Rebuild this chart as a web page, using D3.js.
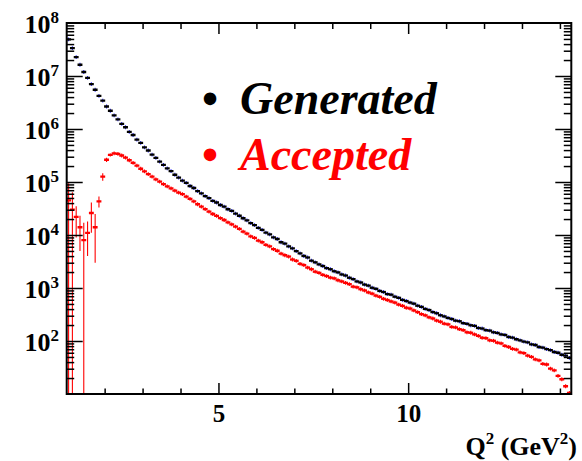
<!DOCTYPE html>
<html>
<head>
<meta charset="utf-8">
<script src="https://cdn.jsdelivr.net/npm/d3@7"></script>
<style>
  body { margin: 0; background: #fff; }
  svg { display: block; }
</style>
</head>
<body>
<svg id="chart" width="582" height="461"></svg>
<script>
// Q^2 histograms: 133 bins of width 0.1 GeV^2 starting at 1.0 GeV^2
const binLow = 1.0;
const binWidth = 0.1;

// Generated events per bin
const generated = [
  4.9e7, 3.35e7, 2.27e7, 1.63e7, 1.19e7, 9.2e6, 7.0e6, 5.5e6, 4.2e6, 3.42e6,
  2.66e6, 2.21e6, 1.80e6, 1.52e6, 1.25e6, 1.08e6, 8.8e5, 7.7e5, 6.3e5, 5.45e5,
  4.52e5, 3.93e5, 3.28e5, 2.85e5, 2.42e5, 2.11e5, 1.80e5, 1.60e5, 1.37e5, 1.21e5,
  1.06e5, 9.6e4, 8.4e4, 7.7e4, 6.7e4, 6.1e4, 5.4e4, 4.95e4, 4.42e4, 4.10e4,
  3.68e4, 3.42e4, 3.06e4, 2.85e4, 2.54e4, 2.31e4, 2.07e4, 1.88e4, 1.68e4, 1.53e4,
  1.36e4, 1.25e4, 1.11e4, 1.03e4, 9.0e3, 8.4e3, 7.3e3, 6.9e3, 6.1e3, 5.6e3,
  4.95e3, 4.52e3, 4.02e3, 3.76e3, 3.28e3, 3.05e3, 2.79e3, 2.60e3, 2.37e3, 2.26e3,
  2.07e3, 1.97e3, 1.80e3, 1.72e3, 1.56e3, 1.47e3, 1.33e3, 1.27e3, 1.16e3, 1.11e3,
  1010, 965, 880, 840, 768, 748, 685, 652, 597, 568,
  531, 506, 463, 441, 403, 384, 351, 334, 306, 291,
  272, 260, 242, 236, 217, 211, 198, 193, 176, 172,
  160, 157, 146, 142, 133, 130, 119, 116, 108, 103,
  97, 94, 86, 84, 77, 75, 70, 67, 62, 60,
  55, 53, 48
];

// Accepted events per bin
const accepted = [
  4.5e4, 3.0e4, 2.2e4, 1.4e4, 8.0e3, 1.1e4, 2.6e4, 1.4e4, 4.3e4, 1.26e5,
  2.63e5, 3.24e5, 3.47e5, 3.39e5, 3.16e5, 2.88e5, 2.57e5, 2.29e5, 2.04e5, 1.78e5,
  1.58e5, 1.41e5, 1.26e5, 1.12e5, 1.02e5, 9.1e4, 8.3e4, 7.6e4, 6.9e4, 6.3e4,
  5.9e4, 5.3e4, 4.8e4, 4.3e4, 3.8e4, 3.42e4, 3.07e4, 2.77e4, 2.49e4, 2.30e4,
  2.08e4, 1.92e4, 1.73e4, 1.59e4, 1.44e4, 1.30e4, 1.16e4, 1.06e4, 9.4e3, 8.8e3,
  7.8e3, 7.3e3, 6.5e3, 6.1e3, 5.4e3, 5.05e3, 4.45e3, 4.15e3, 3.92e3, 3.45e3,
  3.26e3, 2.86e3, 2.71e3, 2.43e3, 2.26e3, 2.03e3, 1.93e3, 1.77e3, 1.68e3, 1.57e3,
  1.52e3, 1.40e3, 1.33e3, 1.25e3, 1.18e3, 1.06e3, 1.03e3, 948, 898, 826,
  782, 718, 682, 626, 594, 558, 530, 486, 461, 424,
  410, 377, 350, 321, 305, 280, 266, 243, 231, 212,
  206, 184, 180, 167, 160, 146, 143, 133, 125, 115,
  113, 103, 101, 93, 90, 81, 77, 71, 69, 61,
  59, 53, 50, 45, 43, 37, 36, 30, 28, 22,
  19, 14, 10.5
];

// Uncertainties of the first accepted bins (low-Q^2 region with large weights)
const acceptedErr = [5.0e4, 3.4e4, 1.3e4, 9.0e3, 9.0e3, 7.0e3, 1.5e4, 1.1e4, 1.0e4, 2.0e4, 2.5e4, 2.0e4];

// Axis ticks and labels
const xMajorTicks = [5, 10];
const xMinorTicks = [2, 3, 4, 6, 7, 8, 9, 11, 12, 13, 14];
const yLabelExponents = [2, 3, 4, 5, 6, 7, 8];
const yMajorTicks = [1e2, 1e3, 1e4, 1e5, 1e6, 1e7];
const legendItems = [
  { label: "Generated", color: "#000000" },
  { label: "Accepted", color: "#ff0000" }
];

const svg = d3.select("#chart");
const SERIF = '"Liberation Serif"';

const plot = { left: 66.7, right: 571.3, top: 23, bottom: 394 };
const x = d3.scaleLinear().domain([1.0, 14.3]).range([plot.left, plot.right]);
const y = d3.scaleLog().domain([10, 1e8]).range([plot.bottom, plot.top]).clamp(true);

const yMinorTicks = [];
for (let e = 1; e < 8; e++) for (let k = 2; k <= 9; k++) yMinorTicks.push(k * Math.pow(10, e));

svg.append("defs").append("clipPath").attr("id", "plotClip")
  .append("rect")
  .attr("x", plot.left - 4).attr("y", plot.top)
  .attr("width", plot.right - plot.left + 4).attr("height", plot.bottom - plot.top);

const bins = (values, errs) => values.map((v, i) => ({
  x0: binLow + i * binWidth,
  x1: binLow + (i + 1) * binWidth,
  xc: binLow + (i + 0.5) * binWidth,
  v,
  err: errs && errs[i] != null ? errs[i] : null
}));

const genBins = bins(generated, null);
const accBins = bins(accepted, acceptedErr);

const data = svg.append("g").attr("clip-path", "url(#plotClip)");

function drawHist(g, bs, barColor, dashColor) {
  // vertical error bars
  g.selectAll("line.err").data(bs).join("line")
    .attr("class", "err")
    .attr("x1", d => x(d.xc)).attr("x2", d => x(d.xc))
    .attr("y1", d => d.err != null ? y(d.v + d.err) : y(d.v) - 1.9)
    .attr("y2", d => d.err != null ? y(Math.max(d.v - d.err, 1)) : y(d.v) + 1.9)
    .attr("stroke", barColor).attr("stroke-width", 1.1);
  // bin-width markers
  g.selectAll("line.bin").data(bs).join("line")
    .attr("class", "bin")
    .attr("x1", d => x(d.x0) + 0.6).attr("x2", d => x(d.x1) - 0.6)
    .attr("y1", d => y(d.v)).attr("y2", d => y(d.v))
    .attr("stroke", dashColor).attr("stroke-width", 2.3)
    .attr("stroke-linecap", "square");
}

drawHist(data.append("g"), genBins, "#2626ff", "#000000");
drawHist(data.append("g"), accBins, "#ff0000", "#ff0000");

// Frame
svg.append("rect")
  .attr("x", plot.left).attr("y", plot.top)
  .attr("width", plot.right - plot.left).attr("height", plot.bottom - plot.top)
  .attr("fill", "none").attr("stroke", "#000").attr("stroke-width", 2);

function tickAxis(axis, transform) {
  const g = svg.append("g").attr("transform", transform).call(axis);
  g.select(".domain").remove();
  g.selectAll(".tick line").attr("stroke", "#000").attr("stroke-width", 1.5);
  return g;
}

// X axis ticks (bottom and top, pointing inward)
const xb = tickAxis(d3.axisBottom(x).tickValues(xMajorTicks).tickSizeInner(-11).tickSizeOuter(0)
  .tickPadding(10).tickFormat(d3.format("d")), `translate(0,${plot.bottom})`);
xb.selectAll(".tick text")
  .style("font-family", SERIF).style("font-weight", "bold").style("font-size", "25px").attr("fill", "#000");
tickAxis(d3.axisBottom(x).tickValues(xMinorTicks).tickSizeInner(-5.5).tickSizeOuter(0).tickFormat(""),
  `translate(0,${plot.bottom})`);
tickAxis(d3.axisTop(x).tickValues(xMajorTicks).tickSizeInner(-11).tickSizeOuter(0).tickFormat(""),
  `translate(0,${plot.top})`);
tickAxis(d3.axisTop(x).tickValues(xMinorTicks).tickSizeInner(-6).tickSizeOuter(0).tickFormat(""),
  `translate(0,${plot.top})`);

// Y axis ticks (left and right, pointing inward)
tickAxis(d3.axisLeft(y).tickValues(yMajorTicks).tickSizeInner(-16).tickSizeOuter(0).tickFormat(""),
  `translate(${plot.left},0)`);
tickAxis(d3.axisLeft(y).tickValues(yMinorTicks).tickSizeInner(-7.5).tickSizeOuter(0).tickFormat(""),
  `translate(${plot.left},0)`);
tickAxis(d3.axisRight(y).tickValues(yMajorTicks).tickSizeInner(-16).tickSizeOuter(0).tickFormat(""),
  `translate(${plot.right},0)`);
tickAxis(d3.axisRight(y).tickValues(yMinorTicks).tickSizeInner(-7.5).tickSizeOuter(0).tickFormat(""),
  `translate(${plot.right},0)`);

// Y tick labels: 10^n
const yl = svg.append("g");
yLabelExponents.forEach(e => {
  const t = yl.append("text")
    .attr("x", 59).attr("y", y(Math.pow(10, e)) + 10)
    .attr("text-anchor", "end")
    .style("font-family", SERIF).style("font-weight", "bold").attr("fill", "#000");
  t.append("tspan").style("font-size", "26px").text("10");
  t.append("tspan").style("font-size", "17px").attr("dy", -10).text(e);
});

// X axis title
const xt = svg.append("text")
  .attr("x", 577).attr("y", 455).attr("text-anchor", "end")
  .style("font-family", SERIF).style("font-weight", "bold").attr("fill", "#000");
xt.append("tspan").style("font-size", "26px").text("Q");
xt.append("tspan").style("font-size", "17px").attr("dy", -11).text("2");
xt.append("tspan").style("font-size", "26px").attr("dy", 11).text(" (GeV");
xt.append("tspan").style("font-size", "17px").attr("dy", -11).text("2");
xt.append("tspan").style("font-size", "26px").attr("dy", 11).text(")");

// Legend
const lg = svg.append("g");
legendItems.forEach((item, i) => {
  const base = 114 + i * 56;
  lg.append("text").attr("x", 210).attr("y", base).attr("text-anchor", "middle")
    .style("font-family", SERIF).style("font-weight", "bold").style("font-size", "46px")
    .attr("fill", item.color).text("\u2022");
  lg.append("text").attr("x", 240).attr("y", base)
    .style("font-family", SERIF).style("font-weight", "bold").style("font-style", "italic")
    .style("font-size", "46px").attr("fill", item.color).text(item.label);
});
</script>
</body>
</html>
